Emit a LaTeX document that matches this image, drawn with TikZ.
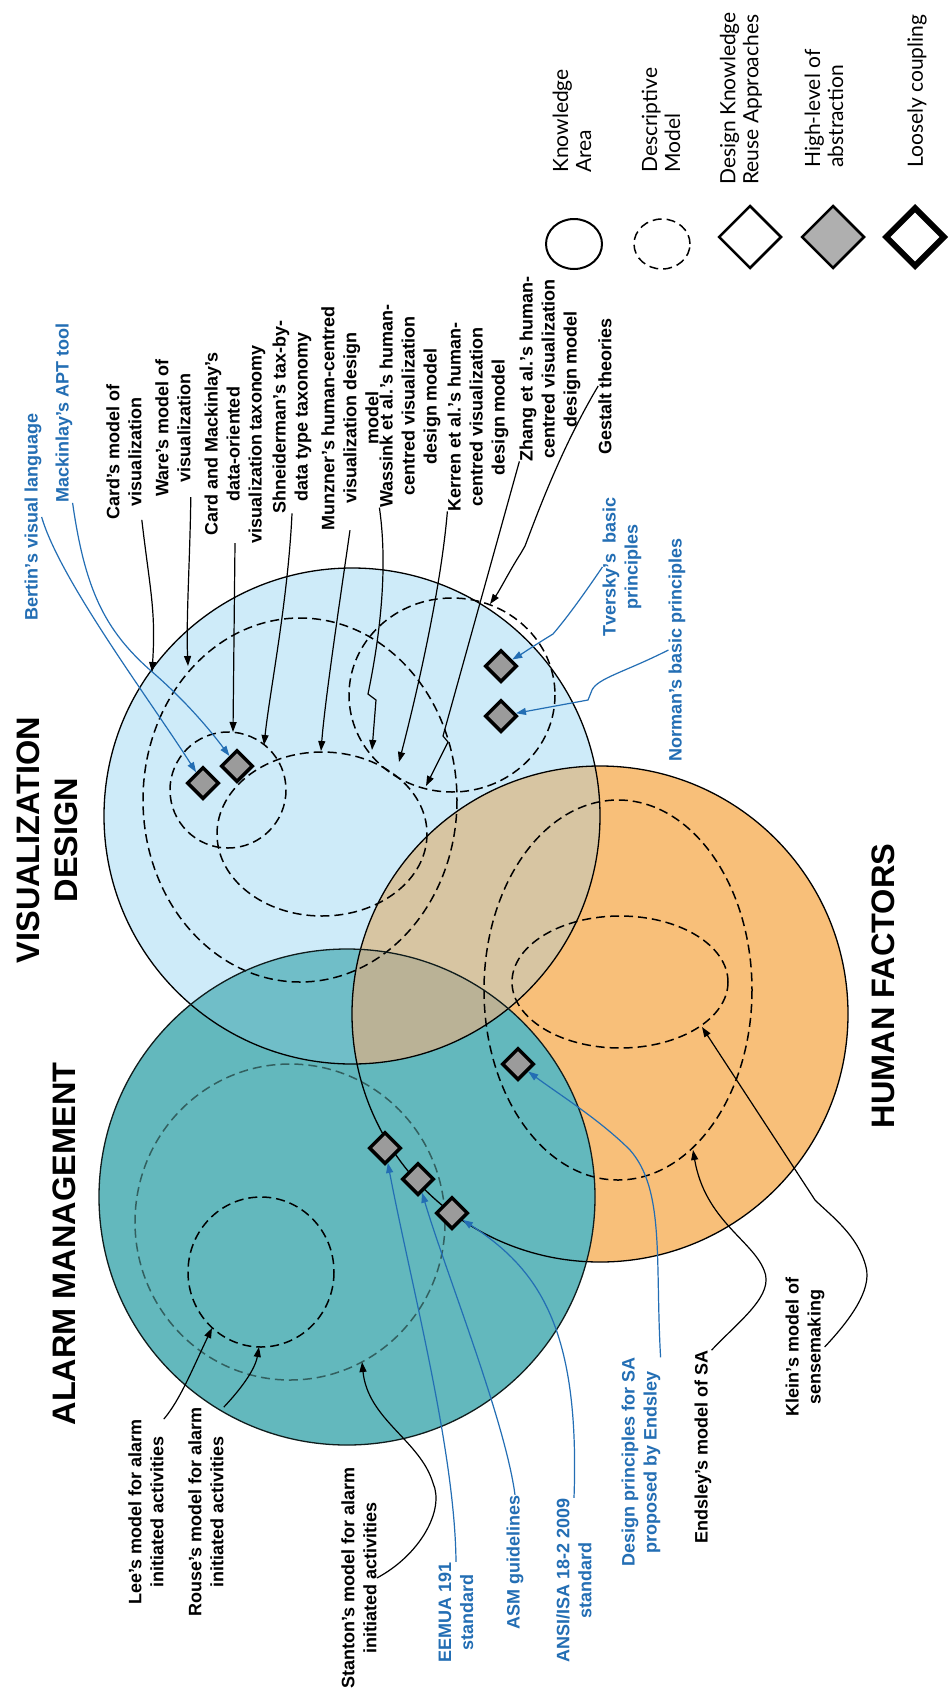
\documentclass[tikz,border=0pt]{standalone}
\usepackage{fontspec}
\setmainfont{Liberation Sans}
\newfontfamily\legendfont{Lato}
\usetikzlibrary{arrows.meta,shapes.geometric}
\definecolor{vizblue}{RGB}{206,235,249}
\definecolor{hforange}{RGB}{248,191,121}
\definecolor{alarmteal}{RGB}{99,184,189}
\definecolor{vizhf}{RGB}{215,197,162}
\definecolor{vizalarm}{RGB}{112,190,200}
\definecolor{hfalarm}{RGB}{205,156,98}
\definecolor{allthree}{RGB}{186,178,150}
\definecolor{linkblue}{RGB}{35,110,180}
\definecolor{reusegray}{RGB}{155,155,155}
\definecolor{tealdash}{RGB}{50,95,95}

\begin{document}
\begin{tikzpicture}[x=1pt,y=-1pt,
  lbl/.style={rotate=90,align=center,inner sep=0pt,font=\bfseries\fontsize{18}{22}\selectfont},
  bluelbl/.style={lbl,text=linkblue},
  areatitle/.style={rotate=90,align=center,inner sep=0pt,font=\bfseries\fontsize{32.5}{38}\selectfont},
  lgdtext/.style={rotate=90,align=left,anchor=west,inner sep=0pt,font=\legendfont\fontsize{21}{23}\selectfont},
  model/.style={line width=1.5pt,dash pattern=on 9pt off 5pt},
  reuse/.style={diamond,draw=black,fill=reusegray,line width=3.5pt,minimum size=32pt,inner sep=0pt},
  link/.style={line width=1.2pt,-{Triangle[length=10pt,width=7pt]}},
  bluelink/.style={link,draw=linkblue}
]
\fill[white] (0,0) rectangle (950,1692);
\useasboundingbox (0,0) rectangle (950,1692);

% knowledge areas
\fill[vizblue] (352,816) circle [radius=248];
\fill[hforange] (600,1014) circle [radius=248];
\fill[alarmteal] (347,1197) circle [radius=248];
\begin{scope}
  \clip (352,816) circle [radius=248];
  \fill[vizhf] (600,1014) circle [radius=248];
  \fill[vizalarm] (347,1197) circle [radius=248];
  \clip (600,1014) circle [radius=248];
  \fill[allthree] (347,1197) circle [radius=248];
\end{scope}
\begin{scope}
  \clip (600,1014) circle [radius=248];
  \clip (347,1197) circle [radius=248] (0,0) rectangle (950,1692);
  \fill[hfalarm] (347,1197) circle [radius=248];
\end{scope}
\begin{scope}
  \clip (600,1014) circle [radius=248];
  \clip (352,816) circle [radius=248];
  \fill[allthree] (347,1197) circle [radius=248];
\end{scope}

% descriptive models
\draw[model] (300,800) ellipse [x radius=157, y radius=182];
\draw[model] (228,790) circle [radius=58];
\draw[model] (322,834) ellipse [x radius=105, y radius=82];
\draw[model] (452,695) ellipse [x radius=103, y radius=97];
\draw[model] (618,990) ellipse [x radius=134, y radius=190];
\draw[model] (620,982) ellipse [x radius=108, y radius=66];
\draw[model,draw=tealdash] (290,1222) ellipse [x radius=155, y radius=158];
\draw[model] (261,1272) ellipse [x radius=73, y radius=75];

\draw[line width=1.3pt] (352,816) circle [radius=248];
\draw[line width=1.3pt] (600,1014) circle [radius=248];
\draw[line width=1.3pt,draw=black!85!alarmteal] (347,1197) circle [radius=248];

% design knowledge reuse approaches
\node[reuse] (dBertin) at (203,783) {};
\node[reuse] (dMack) at (237,766) {};
\node[reuse] (dTversky) at (501,666) {};
\node[reuse] (dNorman) at (501,716) {};
\node[reuse] (dEndsley) at (518,1064) {};
\node[reuse] (dEemua) at (385,1148) {};
\node[reuse] (dAsm) at (418,1179) {};
\node[reuse] (dAnsi) at (452,1213) {};

\coordinate (cCard) at (152,672);
\coordinate (cWare) at (188,666);
\coordinate (cCM) at (233,732);
\coordinate (cShn) at (264,745);
\coordinate (cMunz) at (321,751);
\coordinate (cWass) at (372,750);
\coordinate (cKerr) at (399,762);
\coordinate (cZhang) at (426,786);
\coordinate (cGest) at (490,604);
\coordinate (cLee) at (212,1328);
\coordinate (cRouse) at (259,1347);
\coordinate (cStan) at (362,1362);
\coordinate (cEnds) at (693,1150);
\coordinate (cKlein) at (702,1027);

% titles
\node[areatitle] (viztitle) at (47,840) {VISUALIZATION\\DESIGN};
\node[areatitle] (alarmtitle) at (64,1244) {ALARM MANAGEMENT};
\node[areatitle] (hftitle) at (883,986) {HUMAN FACTORS};

% labels
\node[bluelbl] (bertin) at (33,517) {Bertin's visual language};
\node[bluelbl] (apt) at (64,413) {Mackinlay's APT tool};
\node[lbl] (card) at (124,452) {Card's model of\\visualization};
\node[lbl] (ware) at (173,428) {Ware's model of\\visualization};
\node[lbl] (cardmack) at (235,444) {Card and Mackinlay's\\data-oriented\\visualization taxonomy};
\node[lbl] (shneid) at (292,417) {Shneiderman's tax-by-\\data type taxonomy};
\node[lbl] (munzner) at (350,418) {Munzner's human-centred\\visualization design\\model};
\node[lbl] (wassink) at (410,406) {Wassink et al.'s human-\\centred visualization\\design model};
\node[lbl] (kerren) at (478,417) {Kerren et al.'s human-\\centred visualization\\design model};
\node[lbl] (zhang) at (550,369) {Zhang et al.'s human-\\centred visualization\\design model};
\node[lbl] (gestalt) at (605,386) {Gestalt theories};
\node[bluelbl] (tversky) at (622,567) {Tversky's~ basic\\principles};
\node[bluelbl] (norman) at (677,650) {Norman's basic principles};
\node[lbl] (lee) at (146,1512) {Lee's model for alarm\\initiated activities};
\node[lbl] (rouse) at (206,1512) {Rouse's model for alarm\\initiated activities};
\node[lbl] (stanton) at (359,1578) {Stanton's model for alarm\\initiated activities};
\node[bluelbl] (eemua) at (456,1612) {EEMUA 191\\standard};
\node[bluelbl] (asm) at (515,1562) {ASM guidelines};
\node[bluelbl] (ansi) at (574,1580) {ANSI/ISA 18-2 2009\\standard};
\node[bluelbl] (sadesign) at (641,1462) {Design principles for SA\\proposed by Endsley};
\node[lbl] (endsley) at (703,1447) {Endsley's model of SA};
\node[lbl] (klein) at (805,1347) {Klein's model of\\sensemaking};

% connectors
\draw[bluelink] (bertin.south) .. controls (60,580) and (150,700) .. (dBertin);
\draw[bluelink] (apt.south west) .. controls (85,590) and (105,630) .. (150,670) .. controls (185,700) and (210,730) .. (dMack);
\draw[link] (card.south west) .. controls (150,590) and (156,610) .. (cCard);
\draw[link] (ware.south west) .. controls (190,560) and (186,620) .. (cWare);
\draw[link] (cardmack.west) -- (cCM);
\draw[link] (shneid.west) .. controls (288,600) and (270,690) .. (cShn);
\draw[link] (munzner.west) .. controls (340,600) and (325,700) .. (cMunz);
\draw[link] (wassink.north west) .. controls (390,580) and (375,660) .. (368,694) -- (376,700) -- (cWass);
\draw[link] (kerren.north west) .. controls (440,600) and (410,720) .. (cKerr);
\draw[link] (zhang.north west) -- (443,736) -- (448,742) -- (cZhang);
\draw[link] (gestalt.north) .. controls (560,450) and (535,520) .. (525,546) -- (521,553) .. controls (510,570) and (500,590) .. (cGest);
\draw[bluelink] (tversky.north) .. controls (580,600) and (565,620) .. (553,634) .. controls (535,645) and (520,655) .. (dTversky);
\draw[bluelink] (norman.north) .. controls (625,672) and (598,678) .. (592,690) -- (588,700) -- (dNorman);
\draw[link] (lee.south east) .. controls (180,1400) and (192,1370) .. (cLee);
\draw[link] (rouse.south east) .. controls (240,1390) and (255,1370) .. (cRouse);
\draw[link] (stanton.south) .. controls (420,1555) and (445,1510) .. (433,1483) .. controls (420,1440) and (368,1420) .. (cStan);
\draw[bluelink] (eemua.east) .. controls (455,1450) and (410,1280) .. (dEemua);
\draw[bluelink] (asm.east) .. controls (505,1420) and (445,1270) .. (dAsm);
\draw[bluelink] (ansi.east) .. controls (580,1330) and (540,1270) .. (dAnsi);
\draw[bluelink] (sadesign.south east) .. controls (655,1260) and (665,1190) .. (630,1150) .. controls (600,1120) and (560,1095) .. (dEndsley);
\draw[link] (endsley.south east) .. controls (740,1320) and (775,1295) .. (764,1270) .. controls (752,1240) and (705,1220) .. (cEnds);
\draw[link] (klein.south) .. controls (850,1320) and (872,1290) .. (866,1267) .. controls (858,1235) and (830,1215) .. (815,1200) -- (cKlein);

% legend
\node[ellipse,draw,line width=2pt,minimum width=56pt,minimum height=50pt] (lgdcircle) at (574,244) {};
\node[ellipse,draw,model,minimum width=56pt,minimum height=50pt] (lgddashed) at (662,244) {};
\node[diamond,draw,fill=white,line width=2.5pt,minimum size=63pt,inner sep=0pt] (lgdwhite) at (750,237) {};
\node[diamond,draw,fill=reusegray!80!white,line width=2.5pt,minimum size=63pt,inner sep=0pt] (lgdgray) at (833,237) {};
\node[diamond,draw,fill=white,line width=6pt,minimum size=60pt,inner sep=0pt] (lgdthick) at (915,237) {};
\node[lgdtext] (lgdarea) at (572,173) {Knowledge\\Area};
\node[lgdtext] (lgdmodel) at (661,173) {Descriptive\\Model};
\node[lgdtext] (lgdreuse) at (741,185) {Design Knowledge\\Reuse Approaches};
\node[lgdtext] (lgdhigh) at (824,168) {High-level of\\abstraction};
\node[lgdtext] (lgdloose) at (917,168) {Loosely coupling};
\end{tikzpicture}
\end{document}
